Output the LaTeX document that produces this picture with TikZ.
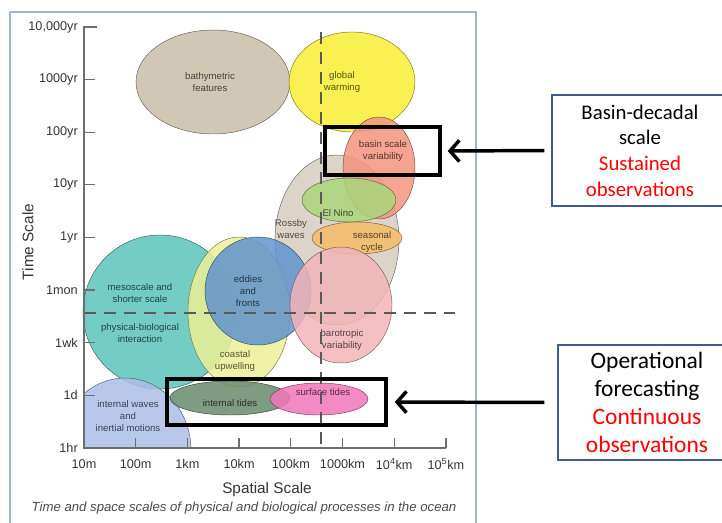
\documentclass[tikz,border=0pt]{standalone}
\usepackage{fontspec}
\setmainfont{Liberation Sans}
\newfontfamily\calibri{Carlito}
\usetikzlibrary{arrows.meta}

\definecolor{bathy}{RGB}{200,190,168}
\definecolor{warming}{RGB}{248,238,50}
\definecolor{rossby}{RGB}{214,205,190}
\definecolor{basin}{RGB}{242,148,126}
\definecolor{nino}{RGB}{172,214,125}
\definecolor{seasonal}{RGB}{246,188,105}
\definecolor{baro}{RGB}{242,180,185}
\definecolor{meso}{RGB}{90,196,186}
\definecolor{coastal}{RGB}{236,240,150}
\definecolor{eddies}{RGB}{98,148,206}
\definecolor{iwaves}{RGB}{170,190,232}
\definecolor{itides}{RGB}{105,140,110}
\definecolor{stides}{RGB}{242,118,186}
\definecolor{framegray}{RGB}{160,180,210}
\definecolor{noteblue}{RGB}{65,90,145}
\definecolor{axisgray}{RGB}{110,110,110}

\begin{document}
\begin{tikzpicture}[x=0.75pt, y=-0.75pt,
    blob/.style={draw=#1!50!black, fill=#1, fill opacity=0.85, line width=0.35pt},
    lbl/.style={font=\fontsize{7.2}{9}\selectfont, align=center, inner sep=0pt,
        text=#1!35!black},
    tick/.style={line width=1pt, draw=axisgray},
    ticklbl/.style={font=\fontsize{9.5}{11}\selectfont, text=black!80, inner sep=0pt},
    guide/.style={line width=1.1pt, draw=black!65, dash pattern=on 9pt off 6pt},
    markbox/.style={draw=black, line width=2.6pt, inner sep=0pt},
    notebox/.style={draw=noteblue, line width=1pt, align=center, inner sep=0pt,
        font=\calibri},
    bigarrow/.style={-{Straight Barb[length=7pt,width=16pt]}, line width=2.6pt}
  ]
  \useasboundingbox (0,0) rectangle (722,522);
  \clip (0,0) rectangle (722,522);
  \draw[framegray, line width=1.5pt] (10,12) rectangle (476,540);

  \filldraw[blob=bathy] (213,82) ellipse [x radius=77, y radius=52];
  \filldraw[blob=warming] (352,82) ellipse [x radius=63, y radius=50];
  \filldraw[blob=rossby] (337,240) ellipse [x radius=62, y radius=85];
  \filldraw[blob=basin] (379,168) ellipse [x radius=36, y radius=51];
  \filldraw[blob=nino] (349,200) ellipse [x radius=47, y radius=22];
  \filldraw[blob=seasonal] (357,238) ellipse [x radius=45, y radius=16];
  \filldraw[blob=meso] (160,312) ellipse [x radius=77, y radius=77];
  \filldraw[blob=coastal] (239,312) ellipse [x radius=51, y radius=75];
  \filldraw[blob=eddies] (258,291) ellipse [x radius=53, y radius=54];
  \filldraw[blob=baro] (341,305) ellipse [x radius=51, y radius=58];
  \begin{scope}
    \clip (84,0) rectangle (500,448);
    \filldraw[blob=iwaves] (125,450) ellipse [x radius=66, y radius=72];
  \end{scope}
  \filldraw[blob=itides] (230,398) ellipse [x radius=60, y radius=17];
  \filldraw[blob=stides] (319,399) ellipse [x radius=49, y radius=16];

  \node[lbl=bathy] (bathylbl) at (210,82) {bathymetric\\features};
  \node[lbl=warming] (warminglbl) at (342,82) {global\\warming};
  \node[lbl=basin] (basinlbl) at (383,151) {basin scale\\variability};
  \node[lbl=nino] (ninolbl) at (338,213) {El Nino};
  \node[lbl=rossby] (rossbylbl) at (291,229) {Rossby\\waves};
  \node[lbl=seasonal] (seasonallbl) at (372,242) {seasonal\\cycle};
  \node[lbl=meso] (mesolbl) at (140,293) {mesoscale and\\shorter scale};
  \node[lbl=meso] (physbiolbl) at (140,333) {physical-biological\\interaction};
  \node[lbl=eddies] (eddieslbl) at (248,291) {eddies\\and\\fronts};
  \node[lbl=coastal] (coastallbl) at (235,361) {coastal\\upwelling};
  \node[lbl=baro] (barolbl) at (342,340) {barotropic\\variability};
  \node[lbl=iwaves] (iwaveslbl) at (128,416) {internal waves\\and\\inertial motions};
  \node[lbl=itides] (itideslbl) at (230,403) {internal tides};
  \node[lbl=stides] (stideslbl) at (323,392) {surface tides};

  \draw[guide] (321,32) -- (321,448);
  \draw[guide] (84,313) -- (455,313);

  \draw[tick] (97,27) -- (84,27) -- (84,448) -- (446,448);
  \foreach \ty/\tl in {27/{10,000yr}, 79.6/1000yr, 132.2/100yr, 184.8/10yr,
      237.4/1yr, 290/1mon, 342.6/1wk, 395.2/1d, 448/1hr}{
      \draw[tick] (84,\ty) -- (95,\ty);
      \node[ticklbl, anchor=east] at (78,\ty) {\tl};
    }
  \foreach \tx/\tl in {84/10m, 135.7/100m, 187.4/1km, 239.1/10km, 290.8/100km,
      342.5/1000km, 394.2/10\textsuperscript{4}km, 445.9/10\textsuperscript{5}km}{
      \draw[tick] (\tx,448) -- (\tx,438);
      \node[ticklbl] at (\tx,464) {\tl};
    }
  \node[font=\fontsize{11.5}{13}\selectfont, text=black!80] (xtitle) at (267,490) {Spatial Scale};
  \node[font=\fontsize{11.5}{13}\selectfont, text=black!80, rotate=90] (ytitle) at (28,242) {Time Scale};
  \node[font=\itshape\fontsize{9.9}{11}\selectfont, text=black!70] (caption) at (244,508)
    {Time and space scales of physical and biological processes in the ocean};

  \node[markbox, minimum width=86.25pt, minimum height=36pt] (basinbox) at (382.5,151) {};
  \node[markbox, minimum width=164.25pt, minimum height=34.5pt] (opbox) at (276.5,402) {};

  \node[notebox, minimum width=132pt, minimum height=83.25pt,
    font=\calibri\fontsize{15.6}{19.3}\selectfont] (basinnote) at (640,150.5)
    {Basin-decadal\\scale\\\textcolor{red}{Sustained}\\\textcolor{red}{observations}};
  \node[notebox, minimum width=133.5pt, minimum height=86.25pt,
    font=\calibri\fontsize{17.6}{21.2}\selectfont] (opnote) at (647,402.5)
    {Operational\\forecasting\\\textcolor{red}{Continuous}\\\textcolor{red}{observations}};

  \draw[bigarrow, shorten <=5.25pt, shorten >=4.5pt] (basinnote.west) -- (basinbox.east);
  \draw[bigarrow, shorten <=9.75pt, shorten >=5.3pt] (opnote.west) -- (opbox.east);
\end{tikzpicture}
\end{document}
